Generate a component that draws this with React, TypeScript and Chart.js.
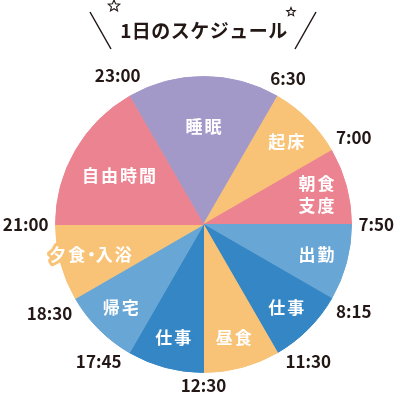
import React, { useEffect, useRef } from 'react';
import { Chart, registerables } from 'chart.js';

Chart.register(...registerables);

// ---- data ----
const chartTitle = '1日のスケジュール';
const activities: string[][] = [
  ['睡眠'],
  ['起床'],
  ['朝食', '支度'],
  ['出勤'],
  ['仕事'],
  ['昼食'],
  ['仕事'],
  ['帰宅'],
  ['夕食・入浴'],
  ['自由時間'],
];
const startTimes = ['23:00', '6:30', '7:00', '7:50', '8:15', '11:30', '12:30', '17:45', '18:30', '21:00'];
// relative slice sizes as drawn in the picture (each unit = 30°)
const sliceSizes = [2, 1, 1, 1, 1, 1, 1, 1, 1, 2];
const sliceColors = ['#A399C9', '#F8C377', '#EC8391', '#68A6D5', '#3486C5', '#F8C377', '#3486C5', '#68A6D5', '#F8C377', '#EC8391'];

const INK = '#231815';
const JP = '"Noto Sans CJK JP", "Noto Sans", sans-serif';

function drawStar(ctx: CanvasRenderingContext2D, cx: number, cy: number, R: number) {
  ctx.beginPath();
  for (let i = 0; i < 10; i++) {
    const r = i % 2 === 0 ? R : R * 0.45;
    const a = -Math.PI / 2 + (i * Math.PI) / 5;
    const x = cx + Math.cos(a) * r;
    const y = cy + Math.sin(a) * r;
    if (i === 0) ctx.moveTo(x, y);
    else ctx.lineTo(x, y);
  }
  ctx.closePath();
  ctx.stroke();
}

// draws text centred at (cx, cy), with the middle dot given half an advance (proportional)
function drawLabel(ctx: CanvasRenderingContext2D, text: string, cx: number, cy: number, spacing: number, stroke: string) {
  const chars = Array.from(text);
  const adv = chars.map((ch) => {
    const w = ctx.measureText(ch).width;
    return ch === '・' ? w * 0.5 : w + spacing;
  });
  const total = adv.reduce((a, b) => a + b, 0) - spacing;
  let x = cx - total / 2;
  ctx.textAlign = 'center';
  ctx.textBaseline = 'middle';
  chars.forEach((ch, k) => {
    const full = ctx.measureText(ch).width;
    const px = x + adv[k] / 2 - (ch === '・' ? 0 : spacing / 2);
    ctx.strokeStyle = stroke;
    ctx.lineWidth = 6;
    ctx.lineJoin = 'round';
    ctx.strokeText(ch, px, cy);
    ctx.fillStyle = '#FFFFFF';
    ctx.fillText(ch, px, cy);
    void full;
    x += adv[k];
  });
}

const decorPlugin = {
  id: 'decor',
  afterDatasetsDraw(chart: any) {
    const ctx: CanvasRenderingContext2D = chart.ctx;
    const meta = chart.getDatasetMeta(0);
    ctx.save();

    // title
    ctx.fillStyle = INK;
    ctx.font = `bold 19px ${JP}`;
    (ctx as any).letterSpacing = '0.5px';
    ctx.textAlign = 'center';
    ctx.textBaseline = 'middle';
    ctx.fillText(chartTitle, 204, 31);
    (ctx as any).letterSpacing = '0px';

    // slashes and stars
    ctx.strokeStyle = INK;
    ctx.lineWidth = 1.5;
    ctx.beginPath();
    ctx.moveTo(90, 12);
    ctx.lineTo(111, 49);
    ctx.moveTo(316, 12);
    ctx.lineTo(295, 49);
    ctx.stroke();
    ctx.lineWidth = 1.1;
    drawStar(ctx, 114, 6, 6);
    drawStar(ctx, 291, 12, 4.5);

    meta.data.forEach((arc: any, i: number) => {
      const { x, y, startAngle, endAngle, outerRadius } = arc.getProps(
        ['x', 'y', 'startAngle', 'endAngle', 'outerRadius'],
        true
      );
      // slice label
      const span = endAngle - startAngle;
      const mid = (startAngle + endAngle) / 2;
      const f = span > 0.6 ? 0.66 : 0.79;
      const lx = x + Math.cos(mid) * outerRadius * f;
      const ly = y + Math.sin(mid) * outerRadius * f;
      const lines = activities[i];
      ctx.font = `bold 17px ${JP}`;
      const lh = 22;
      lines.forEach((t, k) => {
        const ty = ly + (k - (lines.length - 1) / 2) * lh;
        drawLabel(ctx, t, lx, ty, 2, sliceColors[i]);
      });

      // start time label at the slice's starting edge
      ctx.font = `bold 17px ${JP}`;
      ctx.fillStyle = INK;
      ctx.textAlign = 'center';
      ctx.textBaseline = 'middle';
      const label = startTimes[i];
      const w = ctx.measureText(label).width;
      const h = 12;
      const cx = Math.cos(startAngle);
      const sy = Math.sin(startAngle);
      const px = x + cx * outerRadius;
      const py = y + sy * outerRadius;
      if (sy > 0.8 && Math.abs(cx) > 0.3) {
        // lower oblique edges: label sits beside the edge point
        ctx.fillText(label, px + Math.sign(cx) * (8 + w / 2), py + 9);
      } else {
        const d = 7 + Math.abs(cx) * w / 2 + Math.abs(sy) * h / 2;
        ctx.fillText(label, px + cx * d, py + sy * d);
      }
    });
    ctx.restore();
  },
};

export default function App() {
  const ref = useRef<HTMLCanvasElement | null>(null);
  useEffect(() => {
    if (!ref.current) return;
    const chart = new Chart(ref.current, {
      type: 'pie',
      data: {
        labels: activities.map((a) => a.join('')),
        datasets: [
          {
            data: sliceSizes,
            backgroundColor: sliceColors,
            borderColor: sliceColors,
            borderWidth: 1,
            hoverOffset: 0,
          },
        ],
      },
      options: {
        animation: false,
        responsive: false,
        devicePixelRatio: 1,
        rotation: -30,
        layout: { padding: { left: 55, right: 43, top: 76, bottom: 27 } },
        plugins: {
          legend: { display: false },
          tooltip: { enabled: false },
          title: { display: false },
        },
        events: [],
      },
      plugins: [decorPlugin],
    });
    return () => chart.destroy();
  }, []);
  return (
    <div style={{ position: 'fixed', left: 0, top: 0, width: 395, height: 400, background: '#fff' }}>
      <canvas ref={ref} width={395} height={400} style={{ width: 395, height: 400, display: 'block' }} />
    </div>
  );
}
